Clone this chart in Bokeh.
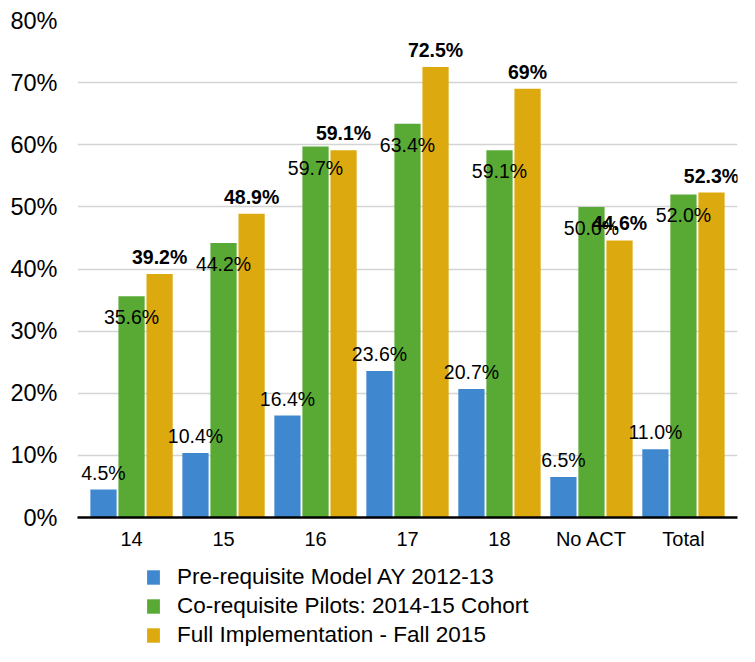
from bokeh.plotting import figure
from bokeh.layouts import column
from bokeh.models import (ColumnDataSource, FactorRange, Range1d, LabelSet, Legend,
                          LegendItem, FixedTicker)
from bokeh.transform import dodge
from bokeh.embed import file_html
from bokeh.resources import INLINE
from bokeh.core.properties import value

# ---- data ----
categories = ["14", "15", "16", "17", "18", "No ACT", "Total"]
series_names = ["Pre-requisite Model AY 2012-13",
                "Co-requisite Pilots: 2014-15 Cohort",
                "Full Implementation - Fall 2015"]
pre_req = [4.5, 10.4, 16.4, 23.6, 20.7, 6.5, 11.0]
co_req = [35.6, 44.2, 59.7, 63.4, 59.1, 50.0, 52.0]
full_impl = [39.2, 48.9, 59.1, 72.5, 69.0, 44.6, 52.3]
pre_labels = ["4.5%", "10.4%", "16.4%", "23.6%", "20.7%", "6.5%", "11.0%"]
co_labels = ["35.6%", "44.2%", "59.7%", "63.4%", "59.1%", "50.0%", "52.0%"]
full_labels = ["39.2%", "48.9%", "59.1%", "72.5%", "69%", "44.6%", "52.3%"]
y_ticks = [0, 10, 20, 30, 40, 50, 60, 70, 80]
y_tick_labels = ["0%", "10%", "20%", "30%", "40%", "50%", "60%", "70%", "80%"]

colors = ["#3f88cf", "#58aa34", "#dcaa0e"]
FONT = value("Liberation Sans")

src = ColumnDataSource(dict(cat=categories, pre=pre_req, co=co_req, full=full_impl,
                            pre_l=pre_labels, co_l=co_labels, full_l=full_labels))
series_fields = ["pre", "co", "full"]

p = figure(x_range=FactorRange(factors=categories, range_padding=0.025),
           y_range=Range1d(0, 80), width=739, height=555,
           output_backend="svg", toolbar_location=None,
           min_border_left=77, min_border_right=2, min_border_top=20,
           min_border_bottom=38)

offset = 0.305
bw = 0.285
offsets = [-offset, 0, offset]
for f, c, o in zip(series_fields, colors, offsets):
    p.vbar(x=dodge("cat", o, range=p.x_range), top=f, width=bw,
           source=src, fill_color=c, line_color=None)

lab_pre = LabelSet(x=dodge("cat", -offset, range=p.x_range), y="pre", text="pre_l",
                   source=src, text_align="center", text_baseline="alphabetic",
                   y_offset=10, text_font=FONT, text_font_size="19.5px",
                   text_color="black")
lab_co = LabelSet(x=dodge("cat", 0, range=p.x_range), y="co", text="co_l",
                  source=src, text_align="center", text_baseline="alphabetic",
                  y_offset=-28, text_font=FONT, text_font_size="19.5px",
                  text_color="black")
lab_full = LabelSet(x=dodge("cat", offset, range=p.x_range), y="full", text="full_l",
                    source=src, text_align="center", text_baseline="alphabetic",
                    y_offset=10, text_font=FONT, text_font_size="19.5px",
                    text_font_style="bold", text_color="black")
p.add_layout(lab_pre)
p.add_layout(lab_co)
p.add_layout(lab_full)

# axes
p.yaxis.ticker = FixedTicker(ticks=y_ticks)
p.yaxis.major_label_overrides = {t: l for t, l in zip(y_ticks, y_tick_labels)}
p.yaxis.axis_line_color = None
p.yaxis.major_tick_line_color = None
p.yaxis.minor_tick_line_color = None
p.yaxis.major_tick_out = 0
p.yaxis.major_tick_in = 0
p.yaxis.major_label_standoff = 20
p.yaxis.major_label_text_font = "Liberation Sans"
p.yaxis.major_label_text_font_size = "23.5px"
p.yaxis.major_label_text_color = "black"

p.xaxis.axis_line_color = "black"
p.xaxis.axis_line_width = 2.5
p.xaxis.major_tick_line_color = None
p.xaxis.minor_tick_line_color = None
p.xaxis.major_tick_out = 0
p.xaxis.major_tick_in = 0
p.xaxis.major_label_standoff = 10
p.xaxis.major_label_text_font = "Liberation Sans"
p.xaxis.major_label_text_font_size = "20px"
p.xaxis.major_label_text_color = "black"

p.xgrid.grid_line_color = None
p.ygrid.grid_line_color = "#d4d4d4"
p.ygrid.grid_line_width = 1.5
p.outline_line_color = None

# ---- legend panel (separate figure below the chart, shares the x range) ----
q = figure(width=739, height=91, output_backend="svg", toolbar_location=None,
           x_range=p.x_range, y_range=Range1d(0, 1),
           x_axis_type=None, y_axis_type=None,
           min_border_left=77, min_border_right=2, min_border_top=0,
           min_border_bottom=0)
q.outline_line_color = None
q.xgrid.visible = False
q.ygrid.visible = False
lr = [q.vbar(x=dodge("cat", o, range=q.x_range), top=f, width=bw, source=src,
             fill_color=c, line_color=None, visible=False)
      for f, c, o in zip(series_fields, colors, offsets)]

legend = Legend(items=[LegendItem(label=n, renderers=[r]) for n, r in zip(series_names, lr)],
                location=(68, -2), orientation="vertical",
                border_line_color=None, background_fill_alpha=0,
                inactive_fill_alpha=0,
                padding=0, margin=0, glyph_width=16, glyph_height=18,
                label_height=22, spacing=3, label_standoff=16,
                label_text_font="Liberation Sans", label_text_font_size="22.5px",
                label_text_color="black")
q.add_layout(legend)

layout = column(p, q, spacing=0)
open("out.html", "w").write(file_html(layout, INLINE))
